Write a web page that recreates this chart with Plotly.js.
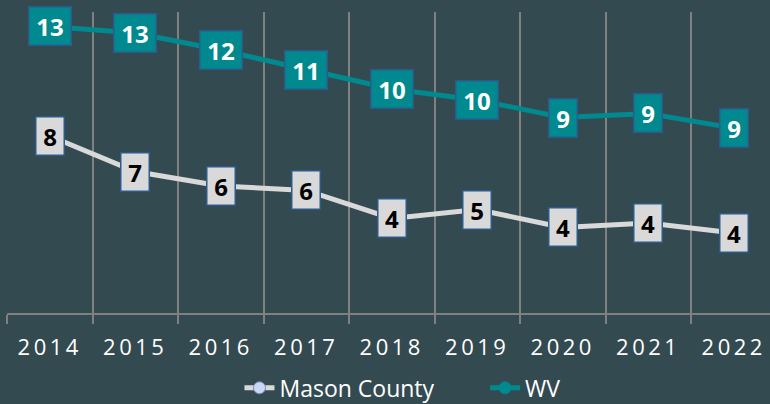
<!DOCTYPE html>
<html><head><meta charset="utf-8">
<script src="https://cdn.plot.ly/plotly-3.0.1.min.js"></script>
<style>body{margin:0;background:#344a51}.xtick text{letter-spacing:3.5px}</style>
</head><body><div id="chart" style="width:770px;height:404px"></div>
<script>
const years = ['2014','2015','2016','2017','2018','2019','2020','2021','2022'];
const masonValues = [8.23, 6.58, 5.91, 5.70, 4.40, 4.81, 3.98, 4.19, 3.72];
const wvValues = [13.33, 13.02, 12.23, 11.32, 10.42, 9.91, 9.09, 9.28, 8.60];
const masonLabels = ['8','7','6','6','4','5','4','4','4'];
const wvLabels = ['13','13','12','11','10','10','9','9','9'];

const teal = '#00898e';
const gray = '#d9d9d9';
const boxBorder = '#2b5b8c';

const traces = [
  {x: years, y: masonValues, name: 'Mason County', type: 'scatter', mode: 'lines+markers',
   line: {color: gray, width: 5}, marker: {size: 12, color: '#cbd7f6', line: {color: '#7f86a8', width: 1}},
   cliponaxis: false, hoverinfo: 'skip', legend: 'legend'},
  {x: years, y: wvValues, name: 'WV', type: 'scatter', mode: 'lines+markers',
   line: {color: teal, width: 5}, marker: {size: 12, color: teal, line: {color: teal, width: 1}},
   cliponaxis: false, hoverinfo: 'skip', legend: 'legend2'}
];

const annotations = [];
function addLabels(vals, labels, fill, textColor) {
  vals.forEach((v, i) => {
    annotations.push({x: years.indexOf(years[i]), y: v, xref: 'x', yref: 'y', text: labels[i], showarrow: false,
      bgcolor: fill, bordercolor: boxBorder, borderwidth: 1.5, borderpad: 0,
      width: labels[i].length > 1 ? 41 : 27, height: 37,
      font: {family: 'Open Sans', size: 24, color: textColor, weight: 'bold'}});
  });
}
addLabels(masonValues, masonLabels, gray, '#000000');
addLabels(wvValues, wvLabels, teal, '#ffffff');

const legendFont = {family: 'Open Sans', size: 23, color: '#ffffff'};
const layout = {
  width: 770, height: 404,
  paper_bgcolor: '#344a51', plot_bgcolor: '#344a51',
  margin: {l: 7, r: 0, t: 12, b: 91, autoexpand: false},
  showlegend: true,
  legend: {orientation: 'h', xref: 'container', yref: 'container', x: 0.311, xanchor: 'left', y: 0.04, yanchor: 'middle',
    font: legendFont, bgcolor: 'rgba(0,0,0,0)'},
  legend2: {orientation: 'h', xref: 'container', yref: 'container', x: 0.63, xanchor: 'left', y: 0.04, yanchor: 'middle',
    font: legendFont, bgcolor: 'rgba(0,0,0,0)'},
  xaxis: {type: 'category', range: [-0.5, 8.424], tickson: 'boundaries', showgrid: true,
    gridcolor: '#808080', gridwidth: 2, showline: true, linecolor: '#808080', linewidth: 2,
    ticks: 'outside', ticklen: 9, tickcolor: '#808080', tickwidth: 2, ticklabelstandoff: 14,
    tickfont: {family: 'Open Sans', size: 22, color: '#ffffff'}, zeroline: false, fixedrange: true},
  yaxis: {range: [0, 14], showgrid: false, showticklabels: false, zeroline: false, showline: false, fixedrange: true},
  annotations: annotations
};

Plotly.newPlot('chart', traces, layout, {displayModeBar: false, staticPlot: true});
</script></body></html>
